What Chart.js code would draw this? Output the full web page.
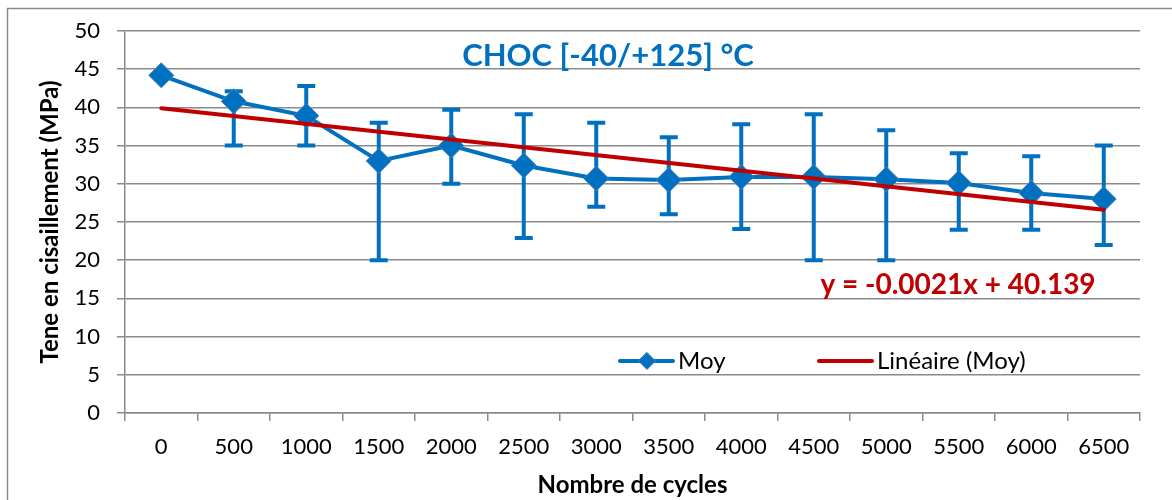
<!DOCTYPE html>
<html><head><meta charset="utf-8">
<script src="https://cdn.jsdelivr.net/npm/chart.js@4"></script>
<style>html,body{margin:0;padding:0;background:#fff}#wrap{position:relative;width:1172px;height:500px}</style>
</head><body><div id="wrap"><canvas id="c" width="1172" height="500"></canvas></div>
<script>
const categories = ['0','500','1000','1500','2000','2500','3000','3500','4000','4500','5000','5500','6000','6500'];
const moy = [44.2, 40.8, 38.9, 33.0, 35.0, 32.4, 30.7, 30.5, 30.9, 30.9, 30.6, 30.1, 28.8, 28.0];
const errUpper = [null, 42.1, 42.8, 38.0, 39.7, 39.1, 38.0, 36.1, 37.8, 39.1, 37.0, 34.0, 33.6, 35.0];
const errLower = [null, 35.0, 35.0, 20.0, 30.0, 22.9, 27.0, 26.0, 24.1, 20.0, 20.0, 24.0, 24.0, 22.0];
const trend = [39.9, null, null, null, null, null, null, null, null, null, null, null, null, 26.6];
const yTicks = [0,5,10,15,20,25,30,35,40,45,50];
const titleText = 'CHOC [-40/+125] °C';
const eqText = 'y = -0.0021x + 40.139';
const yTitle = 'Tene en cisaillement (MPa)';
const xTitle = 'Nombre de cycles';

const BLUE = '#0070C0', RED = '#C00000', GRID = '#8a8a8a';
const FONT = 'Lato, "Open Sans", sans-serif';

const extras = {
  id: 'extras',
  beforeDraw(chart) {
    const ctx = chart.ctx;
    ctx.save();
    ctx.strokeStyle = GRID; ctx.lineWidth = 1.5;
    ctx.beginPath(); ctx.moveTo(7.5, 520); ctx.lineTo(7.5, 8.5); ctx.lineTo(1180, 8.5); ctx.stroke();
    ctx.restore();
  },
  beforeDatasetsDraw(chart) {
    const ctx = chart.ctx, x = chart.scales.x, y = chart.scales.y;
    ctx.save();
    ctx.strokeStyle = BLUE; ctx.lineWidth = 4; ctx.lineCap = 'butt';
    for (let i = 0; i < moy.length; i++) {
      if (errUpper[i] == null) continue;
      const px = x.getPixelForValue(i);
      const yu = y.getPixelForValue(errUpper[i]), yl = y.getPixelForValue(errLower[i]);
      ctx.beginPath();
      ctx.moveTo(px, yu); ctx.lineTo(px, yl);
      ctx.moveTo(px - 9, yu); ctx.lineTo(px + 9, yu);
      ctx.moveTo(px - 9, yl); ctx.lineTo(px + 9, yl);
      ctx.stroke();
    }
    ctx.restore();
  },
  afterDraw(chart) {
    const ctx = chart.ctx;
    ctx.save();
    ctx.textBaseline = 'middle';
    ctx.textAlign = 'center';
    ctx.fillStyle = BLUE; ctx.font = 'bold 31px ' + FONT;
    ctx.fillText(titleText, 608, 56);
    ctx.fillStyle = RED; ctx.font = 'bold 28px ' + FONT;
    ctx.fillText(eqText, 958, 285);
    // legend
    const ly = 361;
    ctx.lineCap = 'round';
    ctx.strokeStyle = BLUE; ctx.lineWidth = 4;
    ctx.beginPath(); ctx.moveTo(620, ly); ctx.lineTo(673, ly); ctx.stroke();
    ctx.fillStyle = BLUE; ctx.strokeStyle = '#4A7EBB'; ctx.lineWidth = 1;
    ctx.beginPath(); ctx.moveTo(647, ly - 8.5); ctx.lineTo(655.5, ly); ctx.lineTo(647, ly + 8.5); ctx.lineTo(638.5, ly); ctx.closePath(); ctx.fill(); ctx.stroke();
    ctx.strokeStyle = RED; ctx.lineWidth = 4;
    ctx.beginPath(); ctx.moveTo(819, ly); ctx.lineTo(872, ly); ctx.stroke();
    ctx.fillStyle = '#000'; ctx.font = '24px ' + FONT; ctx.textAlign = 'left';
    ctx.fillText(chart.data.datasets[0].label, 678, ly);
    ctx.fillText(chart.data.datasets[1].label, 877, ly);
    ctx.restore();
  }
};

new Chart(document.getElementById('c'), {
  type: 'line',
  data: {
    labels: categories,
    datasets: [
      { label: 'Moy', data: moy, borderColor: BLUE, backgroundColor: BLUE, borderWidth: 4,
        pointStyle: 'rectRot', pointRadius: 12.5, pointBackgroundColor: BLUE, pointBorderColor: '#4A7EBB', pointBorderWidth: 1, order: 2, tension: 0 },
      { label: 'Linéaire (Moy)', data: trend, borderColor: RED, borderWidth: 4, pointRadius: 0, spanGaps: true, order: 1, borderCapStyle: 'round' }
    ]
  },
  options: {
    responsive: false, animation: false, devicePixelRatio: 1,
    layout: { padding: { left: 0, right: 32, top: 31, bottom: 0 } },
    plugins: { legend: { display: false }, tooltip: { enabled: false }, title: { display: false } },
    scales: {
      x: {
        type: 'category', offset: true,
        grid: { offset: true, drawOnChartArea: false, drawTicks: true, tickLength: 8, color: GRID, lineWidth: 1.5 },
        border: { display: true, color: GRID, width: 1.5 },
        ticks: { color: '#000', font: { family: FONT, size: 22 }, padding: 13, maxRotation: 0, autoSkip: false },
        title: { display: true, text: xTitle, color: '#000', font: { family: FONT, size: 24, weight: 'bold' }, padding: { top: 8, bottom: 0 } },
        afterFit(s) { s.height = 87; }
      },
      y: {
        min: 0, max: 50,
        afterBuildTicks(s) { s.ticks = yTicks.map(v => ({ value: v })); },
        grid: { drawOnChartArea: true, drawTicks: true, tickLength: 8, color: GRID, lineWidth: 1.5 },
        border: { display: true, color: GRID, width: 1.5 },
        ticks: { color: '#000', font: { family: FONT, size: 22 }, padding: 17 },
        title: { display: true, text: yTitle, color: '#000', font: { family: FONT, size: 24, weight: 'bold' }, padding: { top: 36, bottom: 0 } },
        afterFit(s) { s.width = 125; }
      }
    }
  },
  plugins: [extras]
});
</script></body></html>
